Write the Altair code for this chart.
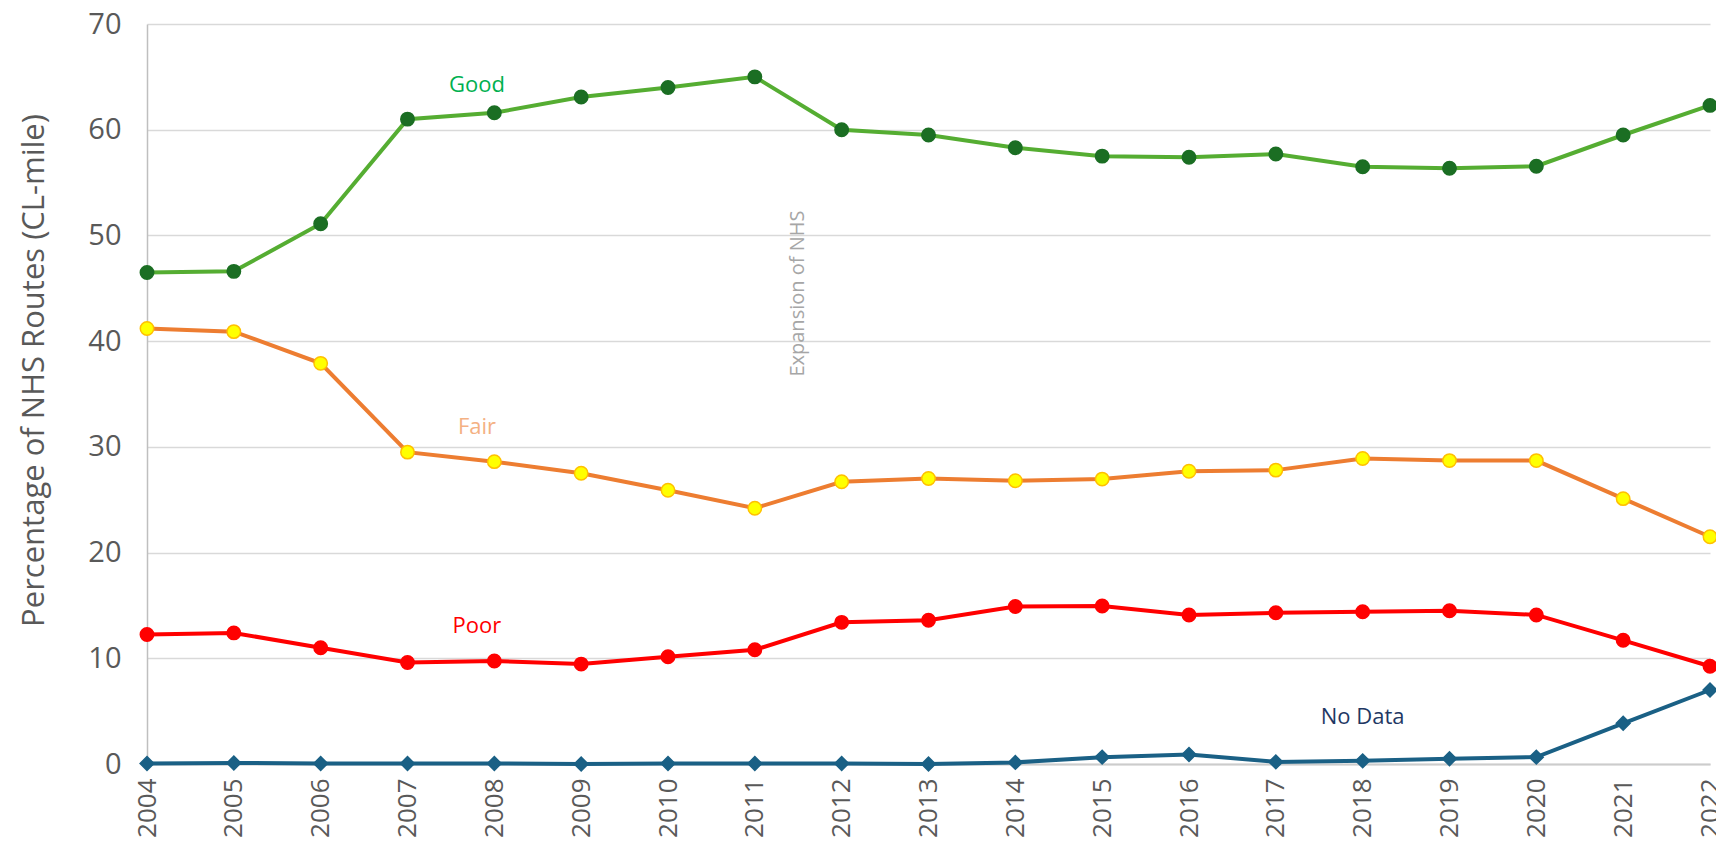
import altair as alt
import pandas as pd

years = list(range(2004, 2023))
good = [46.5, 46.6, 51.1, 61.0, 61.6, 63.1, 64.0, 65.0, 60.0, 59.5, 58.3, 57.5, 57.4, 57.7, 56.5, 56.35, 56.55, 59.5, 62.3]
fair = [41.2, 40.9, 37.9, 29.5, 28.6, 27.5, 25.9, 24.2, 26.7, 27.0, 26.8, 26.95, 27.7, 27.8, 28.9, 28.7, 28.7, 25.1, 21.5]
poor = [12.25, 12.4, 11.0, 9.6, 9.75, 9.45, 10.15, 10.8, 13.4, 13.6, 14.9, 14.95, 14.1, 14.3, 14.4, 14.5, 14.1, 11.7, 9.25]
nodata = [0.05, 0.1, 0.05, 0.05, 0.05, 0.0, 0.05, 0.05, 0.05, 0.0, 0.15, 0.65, 0.9, 0.2, 0.3, 0.5, 0.65, 3.85, 7.0]

label_text = ["Good", "Fair", "Poor", "No Data"]
label_year = [2007.8, 2007.8, 2007.8, 2018.0]
label_value = [64.2, 31.9, 13.1, 4.45]
label_color = ["#00b050", "#f4b183", "#ff0000", "#1f3864"]

note_text = ["Expansion of NHS"]
note_year = [2011.5]
note_value = [44.5]

FONT = "Open Sans"

x_enc = alt.X("year:Q", title=None,
              scale=alt.Scale(domain=[2004, 2022], nice=False, zero=False),
              axis=alt.Axis(values=years, format="d", labelAngle=270, grid=False,
                            ticks=False, labelPadding=14, labelFontSize=26))
y_enc = alt.Y("value:Q", title="Percentage of NHS Routes (CL-mile)",
              scale=alt.Scale(domain=[0, 70], nice=False),
              axis=alt.Axis(values=list(range(0, 71, 10)), ticks=False, labelPadding=26,
                            labelFontSize=29, titleFontSize=31, titlePadding=37,
                            titleY=346))


def series(vals, line_color, fill, stroke, shape, size):
    df = pd.DataFrame({"year": years, "value": vals})
    base = alt.Chart(df).encode(x=x_enc, y=y_enc)
    line = base.mark_line(color=line_color, strokeWidth=4)
    pts = base.mark_point(shape=shape, filled=True, fill=fill, stroke=stroke,
                          strokeWidth=1.5, size=size, opacity=1)
    return line + pts


s_nodata = series(nodata, "#1a6085", "#1a6085", "#1a6085", "diamond", 190)
s_poor = series(poor, "#ff0000", "#ff0000", "#ff0000", "circle", 180)
s_fair = series(fair, "#ed7d31", "#ffff00", "#ffc000", "circle", 180)
s_good = series(good, "#55ad32", "#1b6e23", "#1b6e23", "circle", 180)

labels_df = pd.DataFrame({"year": label_year, "value": label_value,
                          "text": label_text, "color": label_color})
labels = alt.Chart(labels_df).mark_text(font=FONT, fontSize=22, align="center",
                                        baseline="middle").encode(
    x=x_enc, y=y_enc, text="text:N", color=alt.Color("color:N", scale=None))

note_df = pd.DataFrame({"year": note_year, "value": note_value, "text": note_text})
note = alt.Chart(note_df).mark_text(font=FONT, fontSize=20, angle=270, color="#a6a6a6",
                                    align="center", baseline="middle").encode(
    x=x_enc, y=y_enc, text="text:N")

chart = alt.layer(s_nodata, s_poor, s_fair, s_good, labels, note).properties(
    width=1563, height=740,
    autosize=alt.AutoSizeParams(type="none"),
    padding={"left": 139, "top": 16, "right": 6, "bottom": 78},
    background="white",
).configure_view(stroke=None).configure_axis(
    labelFont=FONT, titleFont=FONT, labelColor="#595959", titleColor="#595959",
    titleFontWeight="normal",
).configure_axisY(
    grid=True, gridColor="#d9d9d9", gridWidth=1.5, domainColor="#bfbfbf", domainWidth=1.5,
).configure_axisX(
    domainColor="#cccccc", domainWidth=2,
)

chart.save("out.html", embed_options={"renderer": "svg", "actions": False})
